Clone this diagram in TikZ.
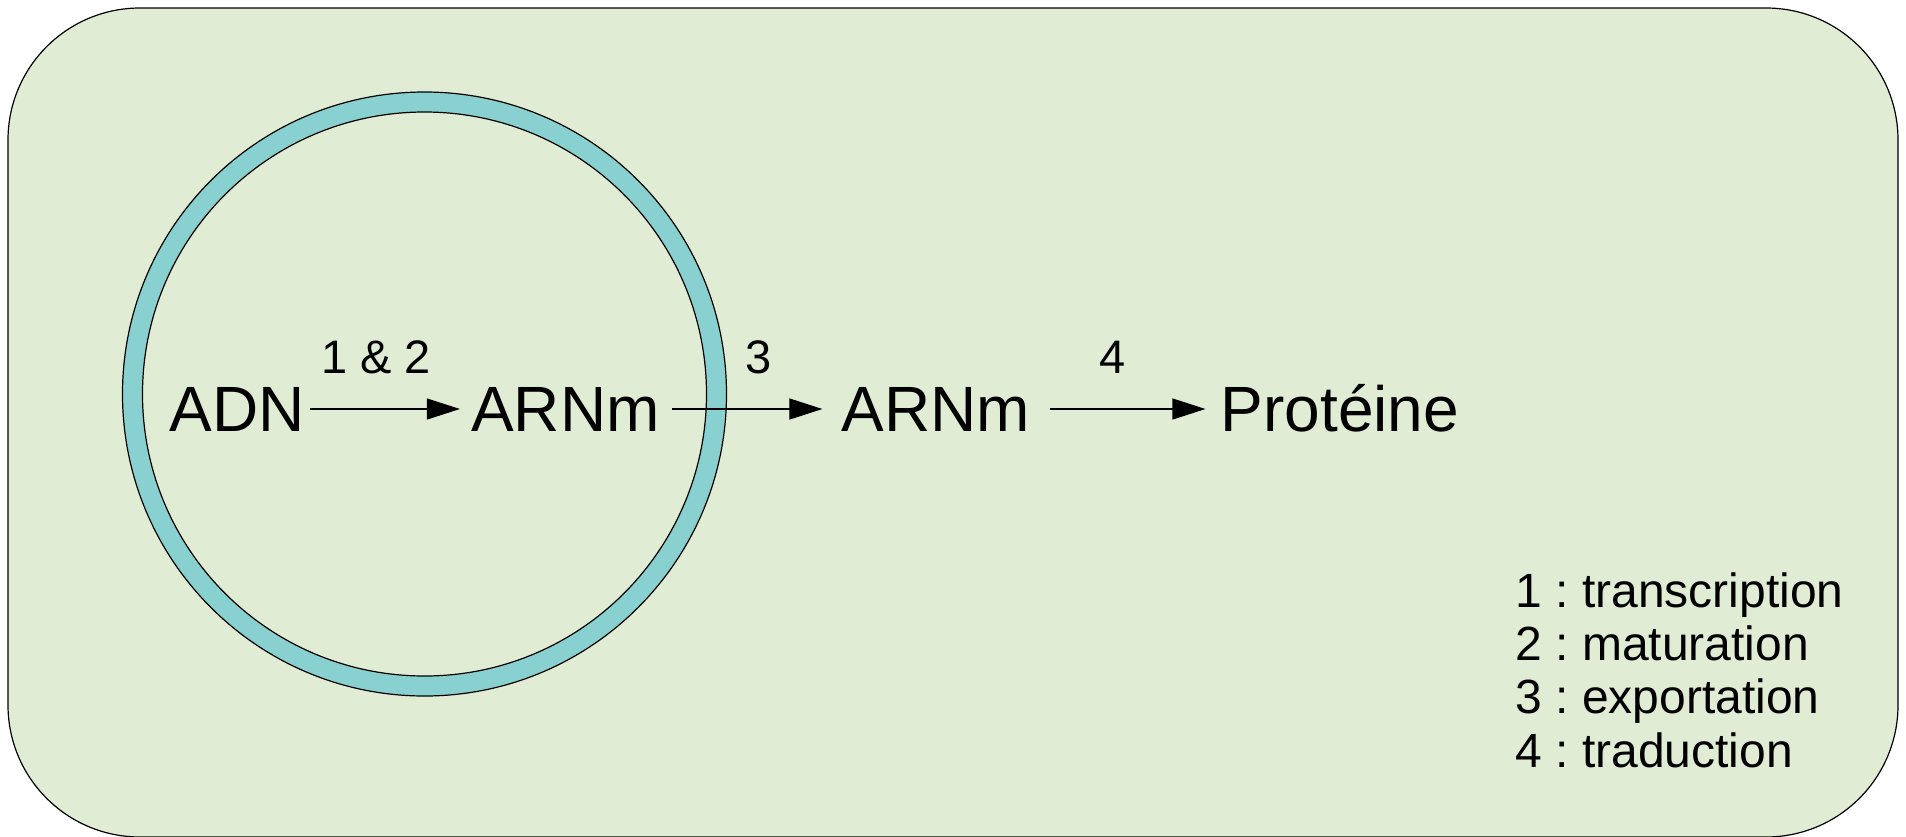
\documentclass[tikz,border=0pt]{standalone}
\usepackage{fontspec}
\setmainfont{Liberation Sans}
\usetikzlibrary{arrows.meta}
\definecolor{cellgreen}{RGB}{224,237,212}
\definecolor{nucleus}{RGB}{136,209,208}
\frenchspacing
\begin{document}
\begin{tikzpicture}[x=0.5pt,y=-0.5pt,
  big/.style={font=\fontsize{32}{38}\selectfont, inner sep=0pt, anchor=base},
  lbl/.style={font=\fontsize{23.5}{28}\selectfont, inner sep=0pt, anchor=base},
  leg/.style={font=\fontsize{24}{28}\selectfont, inner sep=0pt, anchor=base west},
  arr/.style={-{Triangle[length=16.5pt,width=10.5pt]}, line width=0.6pt},
  outline/.style={line width=0.6pt, draw=black}]
\useasboundingbox (0,0) rectangle (1906,836);
\clip (0,0) rectangle (1906,836);
% cell
\draw[outline, fill=cellgreen, rounded corners=66pt] (8,8) rectangle (1898,837);
% nucleus envelope
\fill[nucleus, even odd rule] (424.5,394) circle[radius=151pt] (424.5,394) circle[radius=141pt];
\draw[outline] (424.5,394) circle[radius=151pt];
\draw[outline] (424.5,394) circle[radius=141pt];
% main nodes
\node[big] (adn) at (237,431) {ADN};
\node[big] (arnm1) at (565.5,431) {ARNm};
\node[big] (arnm2) at (936,431) {ARNm};
\node[big] (prot) at (1340,431) {Protéine};
\coordinate (ay) at (0,409);
% arrows
\draw[arr, shorten <=2.5pt, shorten >=5.5pt] (adn.east |- ay) -- (arnm1.west |- ay);
\draw[arr, shorten <=6pt, shorten >=9.5pt] (arnm1.east |- ay) -- (arnm2.west |- ay);
\draw[arr, shorten <=9.5pt, shorten >=7.5pt] (arnm2.east |- ay) -- (prot.west |- ay);
% step labels
\node[lbl] (l12) at (376,373) {1 \& 2};
\node[lbl] (l3) at (758.5,373) {3};
\node[lbl] (l4) at (1113,373) {4};
% legend
\node[leg] (leg1) at (1515,607) {1 : transcription};
\node[leg] (leg2) at (1515,660) {2 : maturation};
\node[leg] (leg3) at (1515,713.5) {3 : exportation};
\node[leg] (leg4) at (1515,767) {4 : traduction};
\end{tikzpicture}
\end{document}
